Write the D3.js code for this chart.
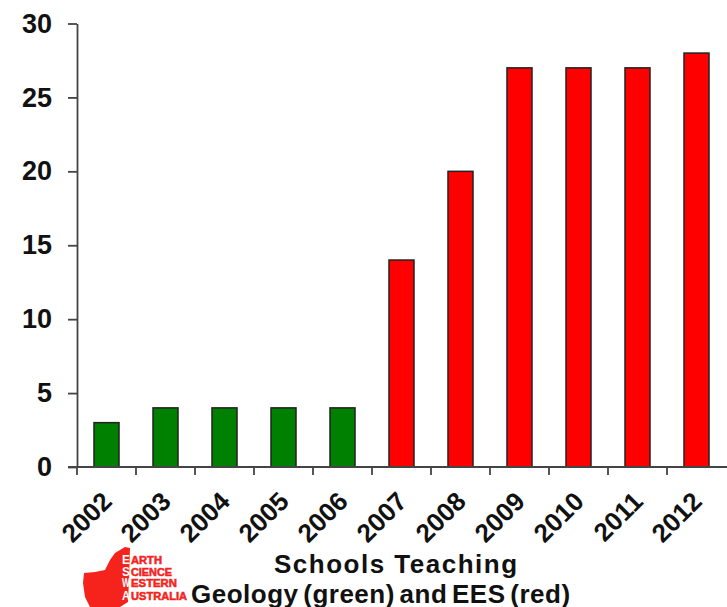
<!DOCTYPE html>
<html>
<head>
<meta charset="utf-8">
<script src="https://cdn.jsdelivr.net/npm/d3@7"></script>
<style>
  body { margin: 0; background: #fff; }
  svg { display: block; }
  text { font-family: "Liberation Sans", Arial, sans-serif; font-weight: bold; fill: #111; }
</style>
</head>
<body>
<div id="chart"></div>
<script>
var years = ["2002", "2003", "2004", "2005", "2006", "2007", "2008", "2009", "2010", "2011", "2012"];
var schools = [3, 4, 4, 4, 4, 14, 20, 27, 27, 27, 28];
var barColours = ["#008000", "#008000", "#008000", "#008000", "#008000", "#ff0000", "#ff0000", "#ff0000", "#ff0000", "#ff0000", "#ff0000"];
var yTicks = [0, 5, 10, 15, 20, 25, 30];
var titleLines = ["Schools Teaching", "Geology (green) and EES (red)"];
var logoWords = ["ARTH", "CIENCE", "ESTERN", "USTRALIA"];
var logoInitials = ["E", "S", "W", "A"];

function init() {
    var w = 727;
    var h = 607;
    var left = 77, top = 23.5, bottom = 467, right = 726;

    var svg = d3.select("#chart").append("svg")
        .attr("width", w)
        .attr("height", h);

    var xScale = d3.scaleBand()
        .domain(years)
        .range([left, right])
        .paddingInner(0.576)
        .paddingOuter(0.288);

    var yScale = d3.scaleLinear()
        .domain([0, 30])
        .range([bottom, top]);

    //bars
    svg.selectAll("rect.bar")
        .data(years)
        .enter().append("rect")
        .attr("class", "bar")
        .attr("x", function(d) { return xScale(d); })
        .attr("y", function(d, i) { return yScale(schools[i]); })
        .attr("width", xScale.bandwidth())
        .attr("height", function(d, i) { return yScale(0) - yScale(schools[i]); })
        .attr("fill", function(d, i) { return barColours[i]; })
        .attr("stroke", "#222")
        .attr("stroke-width", 1.5);

    //y axis
    var yAxis = d3.axisLeft(yScale)
        .tickValues(yTicks)
        .tickSize(9)
        .tickPadding(16)
        .tickSizeOuter(0);

    var yG = svg.append("g")
        .attr("transform", "translate(" + left + ",0)")
        .call(yAxis);
    yG.selectAll("path, line").attr("stroke", "#444").attr("stroke-width", 1.8);
    yG.selectAll("text").style("font-size", "27px").attr("font-family", null);

    //x axis, ticks sit between the bars
    var xG = svg.append("g")
        .attr("transform", "translate(0," + bottom + ")");
    xG.append("line")
        .attr("x1", left - 9).attr("x2", w)
        .attr("stroke", "#444").attr("stroke-width", 1.8);
    xG.selectAll("line.tick")
        .data(years)
        .enter().append("line")
        .attr("class", "tick")
        .attr("x1", function(d) { return xScale(d) - xScale.step() * 0.288; })
        .attr("x2", function(d) { return xScale(d) - xScale.step() * 0.288; })
        .attr("y1", 0).attr("y2", 8)
        .attr("stroke", "#444").attr("stroke-width", 1.8);
    xG.selectAll("text")
        .data(years)
        .enter().append("text")
        .attr("text-anchor", "end")
        .attr("transform", function(d) {
            return "translate(" + (xScale(d) + xScale.bandwidth() / 2 + 7) + ",36) rotate(-45)";
        })
        .style("font-size", "26px")
        .text(function(d) { return d; });

    //title
    svg.append("text")
        .attr("x", 274).attr("y", 573)
        .style("font-size", "26px")
        .style("letter-spacing", "1.5px")
        .text(titleLines[0]);
    svg.append("text")
        .attr("x", 191).attr("y", 603)
        .style("font-size", "26px")
        .style("letter-spacing", "0.5px")
        .style("word-spacing", "-3px")
        .text(titleLines[1]);

    //logo, outline of WA with the four words beside it
    var logo = svg.append("g");
    logo.append("path")
        .attr("d", "M125,547 L130,548 L129,580 L128,602 L120,607 L90,607 L85,597 L83,583 L84,573 L95,572 L105,570 L110,560 L115,553 Z")
        .attr("fill", "#f5231c");
    var baselines = [564, 576, 587, 600];
    var wordEnds = [162, 172, 177, 187];
    logo.selectAll("text.word")
        .data(logoWords)
        .enter().append("text")
        .attr("class", "word")
        .attr("x", 131)
        .attr("y", function(d, i) { return baselines[i]; })
        .attr("textLength", function(d, i) { return wordEnds[i] - 131; })
        .attr("lengthAdjust", "spacingAndGlyphs")
        .style("font-size", "10px")
        .style("fill", "#f5231c")
        .style("stroke", "#f5231c")
        .style("stroke-width", 0.5)
        .text(function(d) { return d; });
    logo.selectAll("text.initial")
        .data(logoInitials)
        .enter().append("text")
        .attr("class", "initial")
        .attr("x", 122)
        .attr("y", function(d, i) { return baselines[i]; })
        .attr("textLength", 8)
        .attr("lengthAdjust", "spacingAndGlyphs")
        .style("font-size", "12px")
        .style("fill", "#fff")
        .text(function(d) { return d; });
}

window.onload = init;
</script>
</body>
</html>
